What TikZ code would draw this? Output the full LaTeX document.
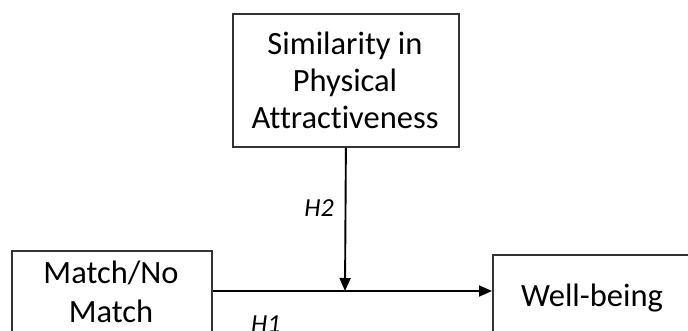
\documentclass[tikz,border=0pt]{standalone}
\usepackage{fontspec}
\setmainfont{Carlito}[Ligatures={NoCommon}]
\usetikzlibrary{arrows.meta}
\begin{document}
\begin{tikzpicture}[x=1pt,y=-1pt,
  box/.style={draw=black!80, line width=1.8pt, rectangle, inner sep=0pt, anchor=north west},
  txt/.style={font=\fontsize{32.5}{37}\selectfont, align=center, inner sep=0pt},
  hyp/.style={font=\fontsize{26}{30}\selectfont\itshape, inner sep=0pt},
  arr/.style={line width=1.9pt, -{Triangle[length=13pt,width=11pt]}}]
\useasboundingbox (0,0) rectangle (688,330);
\clip (0,0) rectangle (688,330);
\node[box, minimum width=226pt, minimum height=133pt] (sim) at (232,13) {};
\node[box, minimum width=200pt, minimum height=130pt] (match) at (11,250) {};
\node[box, minimum width=240pt, minimum height=130pt] (well) at (492,254) {};
\node[txt] (simt) at (345,80) {Similarity in\\Physical\\Attractiveness};
\node[txt] (matcht) at (111,292) {Match/No\\[2pt]Match};
\node[txt, anchor=base] (wellt) at (592,306) {Well-being};
\coordinate (j) at (345,291);
\draw[arr] (match.east |- j) -- (well.west |- j);
\draw[arr] (sim.south) -- (j);
\node[hyp, anchor=base] (h2) at (319,216) {H2};
\node[hyp, anchor=base west] (h1) at (251,332) {H1};
\end{tikzpicture}
\end{document}
